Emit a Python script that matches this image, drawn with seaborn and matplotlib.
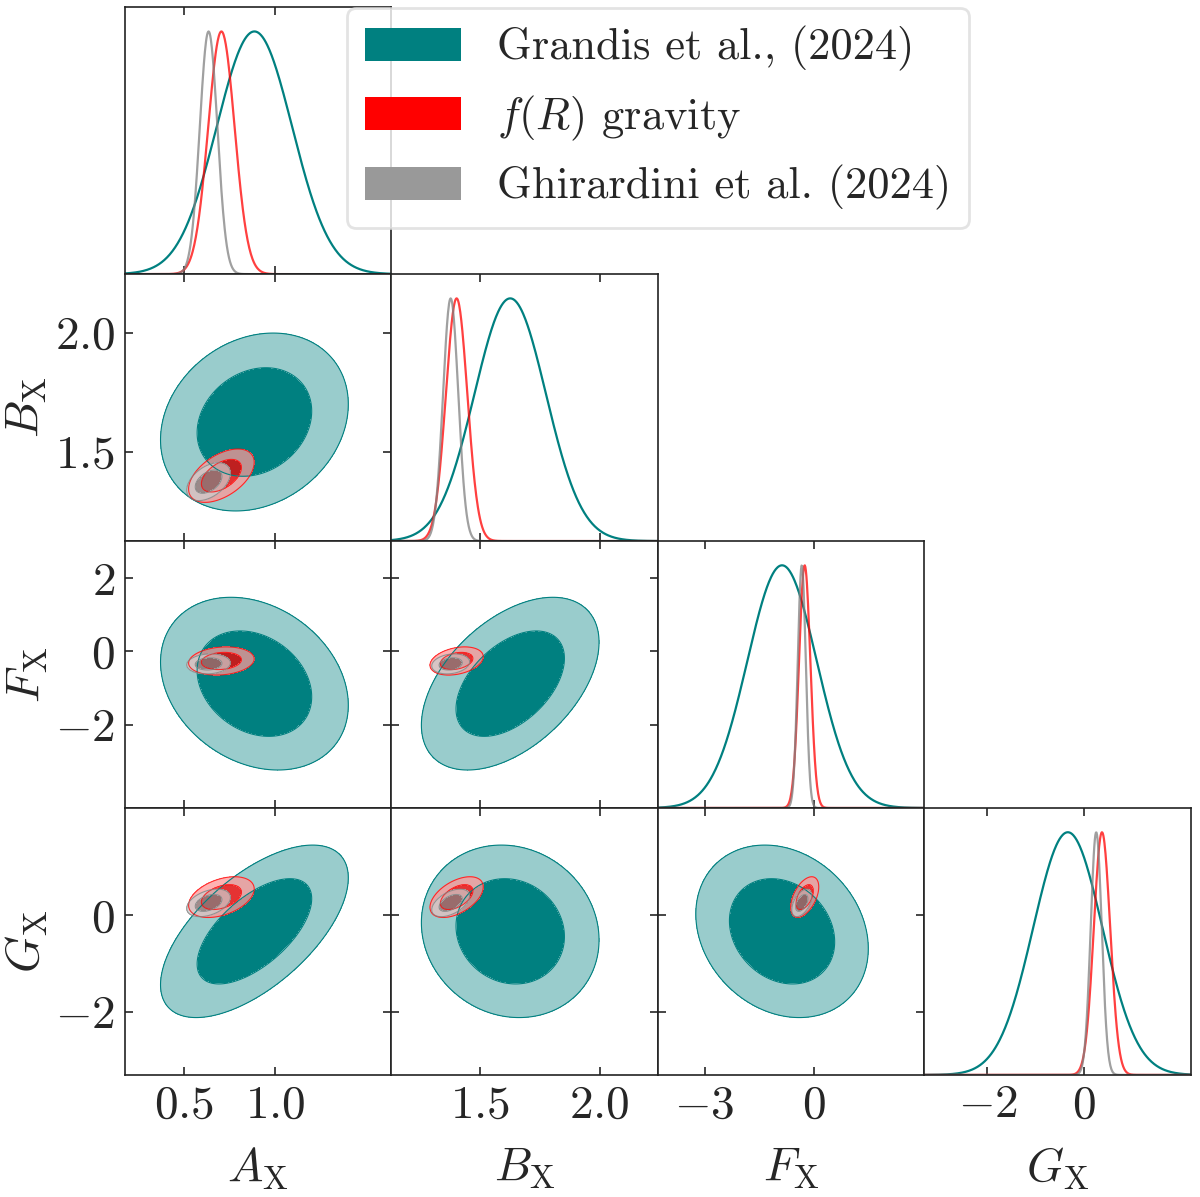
import matplotlib
matplotlib.use('Agg')
import matplotlib.pyplot as plt
from matplotlib.patches import Patch
from matplotlib.colors import to_rgb
import numpy as np
import seaborn as sns

# parameters and axes
param_labels = [r'$A_{\rm X}$', r'$B_{\rm X}$', r'$F_{\rm X}$', r'$G_{\rm X}$']
param_limits = [(0.178, 1.632), (1.126, 2.245), (-4.28, 3.02), (-3.31, 2.23)]
xticks = [[0.5, 1.0], [1.5, 2.0], [-3, 0], [-2, 0]]
xtick_labels = [['0.5', '1.0'], ['1.5', '2.0'], ['-3', '0'], ['-2', '0']]
yticks = [[], [1.5, 2.0], [-2, 0, 2], [-2, 0]]
ytick_labels = [[], ['1.5', '2.0'], ['-2', '0', '2'], ['-2', '0']]

# posterior summaries: mean, sigma, correlations
names = ['Grandis et al., (2024)', r'$f(R)$ gravity', 'Ghirardini et al. (2024)']
colors = ['#008080', '#ff0000', '#808080']
alphas = [1.0, 0.75, 0.75]

grandis_mean = [0.885, 1.625, -0.88, -0.33]
grandis_sigma = [0.206, 0.150, 0.95, 0.72]
grandis_corr = [[1.00, 0.20, -0.25, 0.62],
                [0.20, 1.00, 0.48, -0.10],
                [-0.25, 0.48, 1.00, -0.20],
                [0.62, -0.10, -0.20, 1.00]]

fr_mean = [0.705, 1.400, -0.26, 0.38]
fr_sigma = [0.072, 0.045, 0.155, 0.17]
fr_corr = [[1.00, 0.50, 0.15, 0.40],
           [0.50, 1.00, 0.30, 0.50],
           [0.15, 0.30, 1.00, 0.50],
           [0.40, 0.50, 0.50, 1.00]]

ghir_mean = [0.635, 1.375, -0.34, 0.26]
ghir_sigma = [0.048, 0.032, 0.11, 0.115]
ghir_corr = [[1.00, 0.45, 0.10, 0.40],
             [0.45, 1.00, 0.20, 0.50],
             [0.10, 0.20, 1.00, 0.50],
             [0.40, 0.50, 0.50, 1.00]]

means = [grandis_mean, fr_mean, ghir_mean]
sigmas = [grandis_sigma, fr_sigma, ghir_sigma]
corrs = [grandis_corr, fr_corr, ghir_corr]

FS = 17

sns.set_style('ticks')
plt.rcParams['font.family'] = ['cmr10', 'DejaVu Serif']
plt.rcParams['mathtext.fontset'] = 'cm'
plt.rcParams['axes.formatter.use_mathtext'] = True
plt.rcParams['axes.linewidth'] = 0.6

fig, axes = plt.subplots(4, 4, figsize=(6, 5.985), dpi=200)
fig.subplots_adjust(left=0.104, right=0.9925, bottom=0.102, top=0.994,
                    wspace=0, hspace=0)


def lighter(c, w=0.4):
    r = np.array(to_rgb(c))
    return tuple(w * r + (1 - w))


n = len(param_labels)
for i in range(n):
    for j in range(n):
        ax = axes[i, j]
        if j > i:
            ax.set_visible(False)
            continue
        xlo, xhi = param_limits[j]
        if i == j:
            xs = np.linspace(xlo, xhi, 500)
            for d in range(len(names)):
                m, s = means[d][j], sigmas[d][j]
                dens = np.exp(-0.5 * ((xs - m) / s) ** 2)
                sns.lineplot(x=xs, y=dens, ax=ax, color=colors[d], lw=0.8,
                             alpha=alphas[d] if d else 1.0)
            ax.set_ylim(0, 1.1)
            ax.set_yticks([])
        else:
            ylo, yhi = param_limits[i]
            gx = np.linspace(xlo, xhi, 400)
            gy = np.linspace(ylo, yhi, 400)
            X, Y = np.meshgrid(gx, gy)
            for d in range(len(names)):
                mx, my = means[d][j], means[d][i]
                sx, sy = sigmas[d][j], sigmas[d][i]
                rho = corrs[d][i][j]
                u = (X - mx) / sx
                v = (Y - my) / sy
                chi2 = (u ** 2 - 2 * rho * u * v + v ** 2) / (1 - rho ** 2)
                ax.contourf(X, Y, chi2, levels=[-1, 2.30, 6.18],
                            colors=[colors[d], lighter(colors[d])],
                            alpha=alphas[d])
                ax.contour(X, Y, chi2, levels=[2.30, 6.18],
                           colors=[colors[d]], linewidths=0.4,
                           alpha=alphas[d])
            ax.set_ylim(ylo, yhi)
            ax.set_yticks(yticks[i])
            if j == 0:
                ax.set_yticklabels(['$' + t + '$' for t in ytick_labels[i]])
                ax.set_ylabel(param_labels[i], fontsize=FS, labelpad=2)
            else:
                ax.set_yticklabels([])
        ax.set_xlim(xlo, xhi)
        ax.set_xticks(xticks[j])
        if i == n - 1:
            ax.set_xticklabels(['$' + t + '$' for t in xtick_labels[j]])
            ax.set_xlabel(param_labels[j], fontsize=FS, labelpad=7)
        else:
            ax.set_xticklabels([])
        ax.tick_params(direction='in', top=True, right=(i != j),
                       left=(i != j), length=3, width=0.6,
                       labelsize=FS, pad=3.5)
        for sp in ax.spines.values():
            sp.set_visible(True)
            sp.set_linewidth(0.6)
            sp.set_color('#222222')

handles = [Patch(facecolor=colors[0], edgecolor='none'),
           Patch(facecolor=colors[1], edgecolor='none'),
           Patch(facecolor='#999999', edgecolor='none')]
leg = fig.legend(handles, names, loc='upper left',
                 bbox_to_anchor=(0.289, 0.993), borderaxespad=0,
                 fontsize=16, handlelength=2.18, handleheight=0.76,
                 handletextpad=0.8, labelspacing=0.5, borderpad=0.4,
                 framealpha=0.8, fancybox=True, edgecolor='#dddddd')

fig.savefig('out.png', dpi=200)
